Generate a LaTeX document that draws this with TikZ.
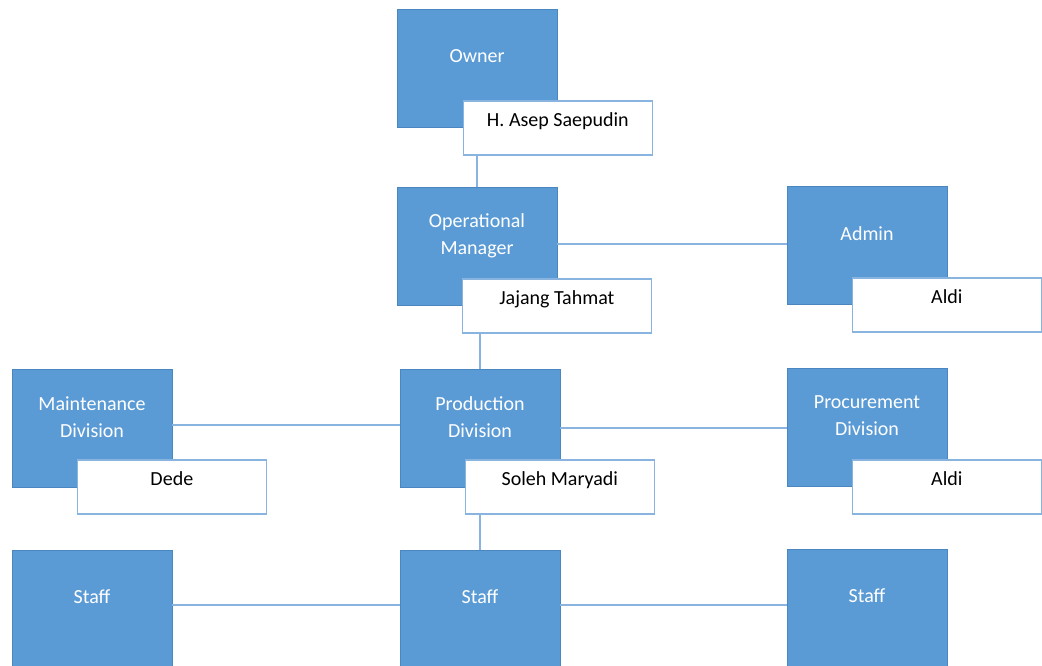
\documentclass[tikz,border=0pt]{standalone}
\usepackage{fontspec}
\setmainfont{Carlito}
\usetikzlibrary{positioning}
\definecolor{boxblue}{HTML}{5B9BD5}
\definecolor{boxedge}{HTML}{4A86C0}
\definecolor{linkblue}{HTML}{8AB4E0}

\tikzset{
  post/.style={draw=boxedge, fill=boxblue, line width=0.8pt,
    minimum width=160pt, minimum height=118pt, inner sep=0pt},
  posttext/.style={text=white, align=center,
    font=\fontsize{20}{27}\selectfont},
  holder/.style={draw=linkblue, fill=white, line width=1.5pt,
    minimum width=189pt, minimum height=54pt, inner sep=0pt,
    text height=14pt, text depth=18pt, anchor=north west,
    font=\fontsize{20}{27}\selectfont},
  link/.style={draw=linkblue, line width=1.5pt}
}

\begin{document}
\begin{tikzpicture}[x=1pt, y=-1pt]
  \useasboundingbox (0,0) rectangle (1042,666);

  % positions
  \node[post] (owner)  at (477,68)  {};
  \node[post] (opman)  at (477,246) {};
  \node[post] (admin)  at (867,245) {};
  \node[post] (maint)  at (92,428)  {};
  \node[post] (prod)   at (480,428) {};
  \node[post] (procur) at (867,427) {};
  \node[post] (staffa) at (92,609)  {};
  \node[post] (staffb) at (480,609) {};
  \node[post] (staffc) at (867,608) {};

  \node[posttext] (ownertxt)  at ([yshift=12pt]owner.center)  {Owner};
  \node[posttext] (opmantxt)  at ([yshift=10pt]opman.center)  {Operational\\Manager};
  \node[posttext] (admintxt)  at ([yshift=11pt]admin.center)  {Admin};
  \node[posttext] (mainttxt)  at ([yshift=11pt]maint.center)  {Maintenance\\Division};
  \node[posttext] (prodtxt)   at ([yshift=11pt]prod.center)   {Production\\Division};
  \node[posttext] (procurtxt) at ([yshift=11pt]procur.center) {Procurement\\Division};
  \node[posttext] (staffatxt) at ([yshift=12pt]staffa.center) {Staff};
  \node[posttext] (staffbtxt) at ([yshift=12pt]staffb.center) {Staff};
  \node[posttext] (staffctxt) at ([yshift=12pt]staffc.center) {Staff};

  % names
  \node[holder] (ownername)  at ([xshift=66pt, yshift=27pt]owner.south west)  {H. Asep Saepudin};
  \node[holder] (opmanname)  at ([xshift=65pt, yshift=27pt]opman.south west)  {Jajang Tahmat};
  \node[holder] (adminname)  at ([xshift=65pt, yshift=27pt]admin.south west)  {Aldi};
  \node[holder] (maintname)  at ([xshift=65pt, yshift=28pt]maint.south west)  {Dede};
  \node[holder] (prodname)   at ([xshift=65pt, yshift=28pt]prod.south west)   {Soleh Maryadi};
  \node[holder] (procurname) at ([xshift=65pt, yshift=27pt]procur.south west) {Aldi};

  % lines
  \draw[link] (ownername.south -| owner.south) -- (opman.north);
  \draw[link] ([yshift=2pt]opman.east) -- ([yshift=2pt]opman.east -| admin.west);
  \draw[link] (opmanname.south -| prod.north) -- (prod.north);
  \draw[link] ([yshift=3pt]maint.east) -- ([yshift=3pt]maint.east -| prod.west);
  \draw[link] (prod.east) -- (prod.east -| procur.west);
  \draw[link] (prodname.south -| staffb.north) -- (staffb.north);
  \draw[link] ([yshift=4pt]staffa.east) -- ([yshift=4pt]staffa.east -| staffb.west);
  \draw[link] ([yshift=4pt]staffb.east) -- ([yshift=4pt]staffb.east -| staffc.west);
\end{tikzpicture}
\end{document}
